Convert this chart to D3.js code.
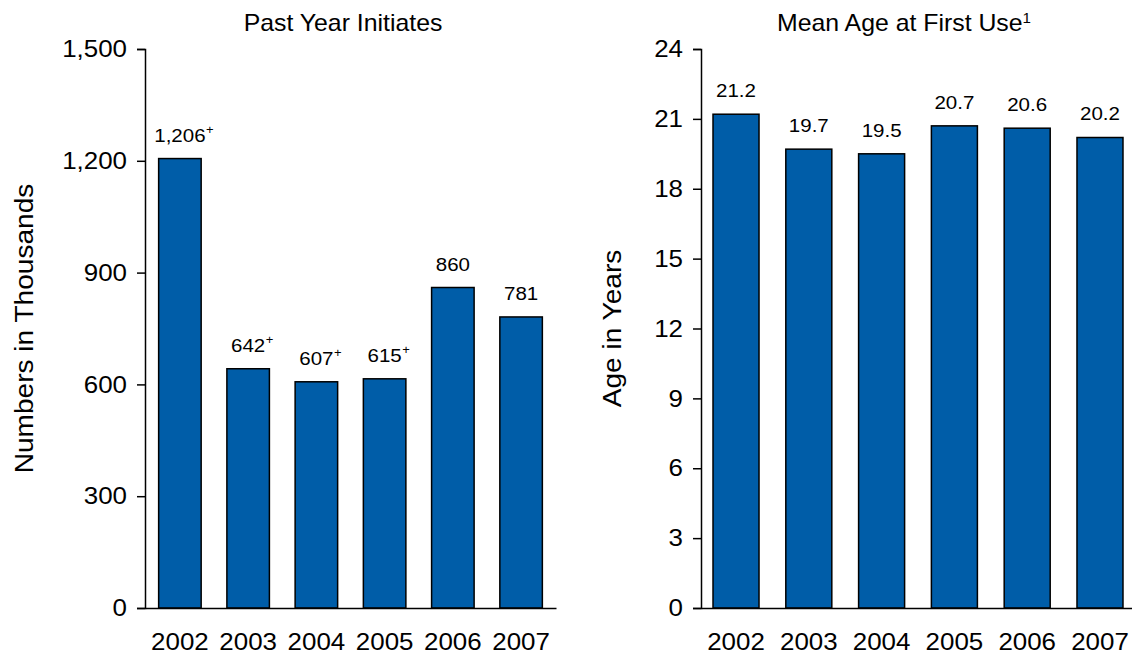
<!DOCTYPE html>
<html lang="en">
<head>
<meta charset="UTF-8">
<title>Past Year Initiates and Mean Age at First Use</title>
<script src="https://d3js.org/d3.v7.min.js"></script>
<style>
  body { margin: 0; background: #fff; }
  svg { display: block; font-family: Arial, 'Liberation Sans', sans-serif; }
  .axis path, .axis line { stroke: #000; stroke-width: 1.5px; }
  .axis text { fill: #000; }
</style>
</head>
<body>
<svg id="chart" width="1132" height="654"></svg>
<script>
const years = ['2002', '2003', '2004', '2005', '2006', '2007'];
const initiates = [1206, 642, 607, 615, 860, 781];
const initiateFlags = ['+', '+', '+', '+', '', ''];
const initiateTicks = [0, 300, 600, 900, 1200, 1500];
const meanAge = [21.2, 19.7, 19.5, 20.7, 20.6, 20.2];
const ageTicks = [0, 3, 6, 9, 12, 15, 18, 21, 24];

const svg = d3.select('#chart');
const barColor = '#005DA8';
const yTop = 49, yBottom = 608;
// the original lettering is a little wider than Arial
const STRETCH = 1.08;

function stretch(sel) {
    sel.each(function() {
        const t = d3.select(this);
        const x = +t.attr('x') || 0, y = +t.attr('y') || 0;
        const base = t.attr('transform') || '';
        t.attr('transform', `${base} translate(${x},${y}) scale(${STRETCH},1) translate(${-x},${-y})`);
    });
}

function drawPanel(p) {
    const g = svg.append('g');

    const x = d3.scaleBand()
        .domain(years)
        .range([p.x0, p.x1])
        .paddingInner(p.padIn)
        .paddingOuter(p.padOut);

    const y = d3.scaleLinear()
        .domain([0, d3.max(p.ticks)])
        .range([yBottom, yTop]);

    // bars
    g.selectAll('rect')
        .data(p.values)
        .join('rect')
        .attr('x', (d, i) => x(years[i]))
        .attr('y', d => y(d))
        .attr('width', x.bandwidth())
        .attr('height', d => y(0) - y(d))
        .attr('fill', barColor)
        .attr('stroke', '#000')
        .attr('stroke-width', 1.5);

    // axes
    const ya = g.append('g')
        .attr('class', 'axis')
        .attr('transform', `translate(${p.x0},0)`)
        .call(d3.axisLeft(y).tickValues(p.ticks).tickFormat(p.fmt).tickSize(8).tickPadding(10));
    ya.selectAll('text').style('font-size', '24px').call(stretch);

    const xa = g.append('g')
        .attr('class', 'axis')
        .attr('transform', `translate(0,${yBottom})`)
        .call(d3.axisBottom(x).tickSize(0).tickPadding(25));
    xa.selectAll('text').style('font-size', '24px').call(stretch);

    // value labels (number centred on bar, flag hangs to the right)
    g.selectAll('.val')
        .data(p.values)
        .join('text')
        .attr('class', 'val')
        .attr('x', (d, i) => x(years[i]) + x.bandwidth() / 2)
        .attr('y', d => y(d) - 17)
        .attr('text-anchor', 'middle')
        .style('font-size', '19px')
        .text(d => p.labelFmt(d))
        .each(function(d, i) {
            const flag = p.flags ? p.flags[i] : '';
            if (!flag) return;
            const w = this.getComputedTextLength() * STRETCH;
            g.append('text')
                .attr('x', x(years[i]) + x.bandwidth() / 2 + w / 2 + 0.5)
                .attr('y', y(d) - 25)
                .style('font-size', '13px')
                .text(flag);
        })
        .call(stretch);

    // title
    const t = g.append('text')
        .attr('x', p.titleX)
        .attr('y', 31)
        .attr('text-anchor', 'middle')
        .style('font-size', '23px')
        .text(p.title);
    if (p.titleSup) {
        t.append('tspan')
            .attr('dy', -8)
            .style('font-size', '14px')
            .text(p.titleSup);
    }
    t.call(stretch);

    // y axis title
    g.append('text')
        .attr('transform', `translate(${p.labelX},${(yTop + yBottom) / 2}) rotate(-90)`)
        .attr('text-anchor', 'middle')
        .attr('dy', '0.35em')
        .style('font-size', '26px')
        .text(p.yLabel)
        .call(stretch);
}

drawPanel({
    values: initiates,
    flags: initiateFlags,
    ticks: initiateTicks,
    fmt: d3.format(','),
    labelFmt: d3.format(','),
    x0: 145, x1: 556, padIn: 0.377, padOut: 0.2,
    title: 'Past Year Initiates', titleX: 343,
    yLabel: 'Numbers in Thousands', labelX: 24
});

drawPanel({
    values: meanAge,
    ticks: ageTicks,
    fmt: d3.format('d'),
    labelFmt: d3.format('.1f'),
    x0: 701, x1: 1135, padIn: 0.368, padOut: 0.165,
    title: 'Mean Age at First Use', titleSup: '1', titleX: 904,
    yLabel: 'Age in Years', labelX: 612
});
</script>
</body>
</html>
